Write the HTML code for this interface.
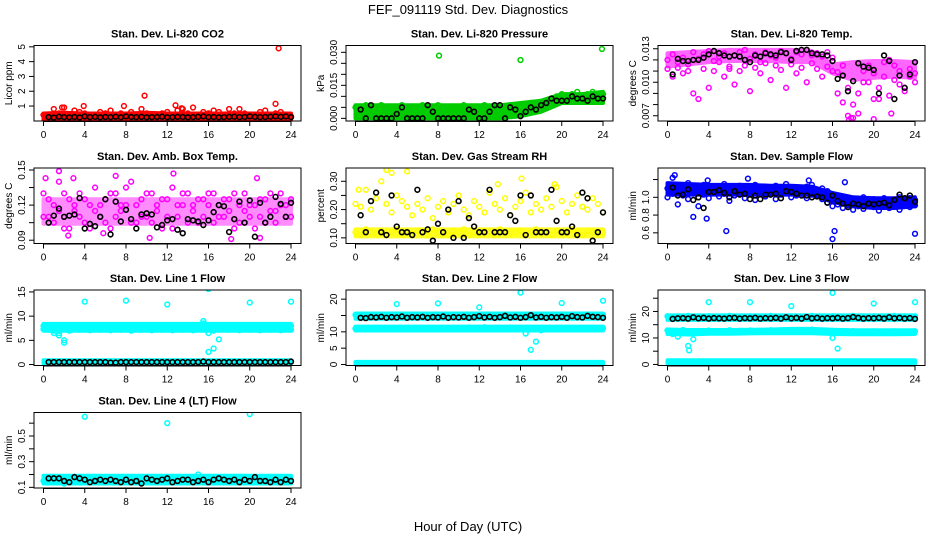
<!DOCTYPE html>
<html><head><meta charset="utf-8"><style>
body{margin:0;background:#fff;}
svg{display:block;font-family:"Liberation Sans",sans-serif;}
</style></head><body>
<svg id="chart" width="936" height="540" viewBox="0 0 936 540">
<text x="468" y="14" text-anchor="middle" font-size="13">FEF_091119  Std. Dev. Diagnostics</text>
<text x="468" y="531" text-anchor="middle" font-size="13">Hour of Day (UTC)</text>
</svg>
<script>
// ---------- data ----------
const xTicks=[0,4,8,12,16,20,24];
// Panel 1 CO2
const co2Color=[0.4,0.3,0.8,0.5,0.9,0.3,0.7,0.6,0.5,0.3,0.4,0.6,0.5,0.7,0.4,0.5,0.3,0.6,0.4,0.8,0.5,0.4,0.3,0.5,0.6,0.4,0.7,0.8,0.5,0.9,0.4,0.6,0.5,0.7,0.6,0.4,0.8,0.5,0.3,0.5,0.4,0.3,0.6,0.7,0.4,0.5,0.6,0.4,0.3];
const co2Black=[0.25,0.22,0.28,0.25,0.24,0.26,0.23,0.3,0.25,0.27,0.24,0.26,0.25,0.28,0.24,0.3,0.26,0.25,0.27,0.24,0.25,0.26,0.28,0.24,0.25,0.27,0.26,0.24,0.25,0.27,0.3,0.25,0.26,0.24,0.25,0.27,0.28,0.25,0.26,0.3,0.27,0.25,0.26,0.28,0.3,0.27,0.3,0.25];
const co2OutX=[22.8,9.8,22.5,12.8,7.8,3.9,1.8,13.4,19];
const co2OutY=[4.9,1.7,1.15,1.05,1.0,1.0,0.9,0.85,0.8];
const co2BandLo=[0.05,0.05,0.05,0.05,0.05,0.05,0.05,0.05,0.05,0.05,0.05,0.05,0.05];
const co2BandHi=[0.5,0.55,0.5,0.5,0.5,0.55,0.5,0.5,0.5,0.5,0.5,0.5,0.5];
// Panel 2 pressure
const prsColor=[0.005,0.002,0.006,0.001,0.004,0.006,0.003,0.005,0.002,0.006,0.004,0.001,0.005,0.006,0.003,0.002,0.006,0.004,0.005,0.001,0.003,0.006,0.005,0.002,0.004,0.006,0.003,0.005,0.001,0.004,0.006,0.005,0.003,0.006,0.007,0.005,0.007,0.008,0.009,0.010,0.011,0.010,0.011,0.012,0.010,0.011,0.012,0.010,0.011];
const prsBlack=[0.004,0.0,0.006,0.0,0.0,0.0,0.0,0.002,0.005,0.0,0.0,0.0,0.0,0.006,0.003,0.0,0.0,0.0,0.0,0.0,0.0,0.004,0.003,0.0,0.0,0.003,0.006,0.006,0.0,0.005,0.004,0.001,0.003,0.005,0.004,0.006,0.007,0.009,0.008,0.008,0.008,0.010,0.009,0.009,0.008,0.010,0.009,0.009];
const prsOutX=[8.1,16,23.9];
const prsOutY=[0.0285,0.0265,0.0315];
const prsBandLo=[0,0,0,0,0,0,0,0,0.001,0.003,0.007,0.007,0.007];
const prsBandHi=[0.006,0.006,0.006,0.006,0.006,0.006,0.006,0.006,0.007,0.008,0.011,0.011,0.012];
// Panel 3 Li-820 temp
const tmpColor=[0.0120,0.0125,0.0118,0.0122,0.0110,0.0127,0.0121,0.0125,0.0128,0.0119,0.0123,0.0126,0.0112,0.0124,0.0127,0.0129,0.0121,0.0125,0.0118,0.0127,0.0124,0.0122,0.0128,0.0126,0.0121,0.0127,0.0125,0.0129,0.0124,0.0126,0.0123,0.0127,0.0122,0.0109,0.0115,0.0095,0.0080,0.0072,0.0100,0.0115,0.0108,0.0085,0.0118,0.0120,0.0102,0.0110,0.0095,0.0112,0.0108];
const tmpColor2=[0.0112,0.0105,0.0113,0.0108,0.0116,0.0090,0.0085,0.0112,0.0095,0.0110,0.0118,0.0105,0.0114,0.0098,0.0110,0.0115,0.0092,0.0113,0.0108,0.0117,0.0102,0.0115,0.0111,0.0095,0.0116,0.0108,0.0113,0.0100,0.0117,0.0112,0.0105,0.0114,0.0110,0.0090,0.0082,0.0070,0.0068,0.0090,0.0110,0.0100,0.0085,0.0095,0.0105,0.0088,0.0115,0.0098,0.0092,0.0105,0.0100];
const tmpBlack=[0.0107,0.0121,0.0119,0.0119,0.0120,0.0120,0.0122,0.0125,0.0128,0.0126,0.0124,0.0123,0.0124,0.0123,0.0120,0.0118,0.0124,0.0123,0.0126,0.0125,0.0124,0.0127,0.0126,0.0120,0.0128,0.0129,0.0129,0.0126,0.0125,0.0125,0.0124,0.0119,0.0103,0.0106,0.0092,0.0101,0.0117,0.0114,0.0113,0.0111,0.0090,0.0124,0.0119,0.0085,0.0106,0.0095,0.0107,0.0118];
const tmpOutX=[17.6,17.8,20,21.7];
const tmpOutY=[0.0066,0.0068,0.0067,0.0072];
const tmpBandLo=[0.0114,0.0116,0.0118,0.0119,0.0119,0.0119,0.0118,0.0118,0.0108,0.0102,0.0104,0.0105,0.0104];
const tmpBandHi=[0.0126,0.0127,0.0128,0.0129,0.0129,0.0129,0.0129,0.0128,0.0116,0.0118,0.0119,0.0119,0.0118];
// Panel 4 amb box temp
const ambColor=[0.13,0.11,0.12,0.14,0.10,0.125,0.115,0.13,0.105,0.12,0.135,0.11,0.125,0.10,0.13,0.115,0.12,0.14,0.105,0.125,0.11,0.13,0.12,0.10,0.125,0.135,0.11,0.12,0.13,0.115,0.105,0.125,0.12,0.13,0.11,0.125,0.115,0.10,0.12,0.13,0.11,0.12,0.125,0.105,0.13,0.115,0.12,0.11,0.125];
const ambColor2=[0.11,0.125,0.105,0.115,0.13,0.10,0.12,0.11,0.125,0.10,0.115,0.12,0.105,0.13,0.11,0.12,0.135,0.105,0.12,0.11,0.13,0.105,0.115,0.125,0.11,0.10,0.12,0.13,0.105,0.12,0.125,0.11,0.13,0.105,0.12,0.11,0.125,0.13,0.105,0.115,0.12,0.10,0.11,0.125,0.115,0.105,0.13,0.12,0.11];
const ambBlack=[0.105,0.111,0.117,0.110,0.111,0.112,0.126,0.100,0.104,0.102,0.110,0.125,0.095,0.123,0.106,0.116,0.108,0.100,0.112,0.113,0.112,0.101,0.103,0.107,0.108,0.099,0.096,0.108,0.107,0.106,0.103,0.107,0.114,0.120,0.119,0.097,0.108,0.123,0.105,0.124,0.093,0.122,0.105,0.110,0.127,0.121,0.110,0.122];
const ambOutX=[1.5,0.2,7,12.6,2.9,20.7,10.3,2.4,5.8,18.2,21];
const ambOutY=[0.149,0.143,0.145,0.147,0.143,0.143,0.092,0.094,0.096,0.091,0.092];
const ambBandLo=[0.104,0.104,0.104,0.104,0.104,0.104,0.104,0.104,0.104,0.104,0.104,0.104,0.104];
const ambBandHi=[0.125,0.125,0.125,0.125,0.125,0.125,0.125,0.125,0.125,0.125,0.125,0.125,0.125];
// Panel 5 RH
const rhColor=[0.12,0.11,0.13,0.12,0.115,0.125,0.11,0.12,0.13,0.11,0.12,0.115,0.125,0.12,0.11,0.13,0.12,0.115,0.11,0.125,0.12,0.13,0.11,0.12,0.115,0.125,0.12,0.11,0.13,0.12,0.115,0.12,0.125,0.11,0.12,0.13,0.115,0.12,0.11,0.125,0.12,0.115,0.13,0.12,0.11,0.125,0.12,0.115,0.12];
const rhColor2=[0.22,0.21,0.27,0.20,0.24,0.30,0.22,0.19,0.25,0.23,0.21,0.18,0.22,0.20,0.24,0.17,0.21,0.23,0.19,0.22,0.25,0.20,0.18,0.23,0.21,0.19,0.26,0.22,0.20,0.24,0.18,0.21,0.23,0.26,0.19,0.22,0.20,0.24,0.21,0.28,0.23,0.19,0.22,0.25,0.21,0.20,0.24,0.22,0.19];
const rhBlack=[0.18,0.12,0.23,0.26,0.12,0.11,0.25,0.14,0.12,0.12,0.11,0.27,0.12,0.13,0.09,0.15,0.12,0.20,0.10,0.23,0.10,0.17,0.14,0.12,0.12,0.27,0.12,0.12,0.12,0.18,0.16,0.25,0.11,0.25,0.12,0.12,0.12,0.27,0.16,0.12,0.12,0.14,0.11,0.26,0.24,0.09,0.12,0.19];
const rhOutX=[3.0,3.5,5.0,0.3,16.1,13.8,19.3];
const rhOutY=[0.34,0.33,0.335,0.27,0.31,0.29,0.29];
const rhBandLo=[0.105,0.105,0.105,0.105,0.105,0.105,0.105,0.105,0.105,0.105,0.105,0.105,0.105];
const rhBandHi=[0.13,0.13,0.13,0.13,0.13,0.13,0.13,0.13,0.13,0.13,0.13,0.13,0.13];
// Panel 6 sample flow
const sfColor=[1.10,1.14,1.08,1.12,1.16,1.09,1.11,1.14,1.06,1.12,1.10,1.15,1.08,1.12,1.13,1.07,1.11,1.14,1.09,1.12,1.08,1.13,1.10,1.15,1.07,1.11,1.09,1.12,1.14,1.08,1.10,1.07,1.02,1.00,0.97,0.99,0.94,0.97,1.00,0.95,0.98,0.96,0.99,0.94,0.97,1.00,0.96,0.99,0.97];
const sfColor2=[1.00,1.04,0.92,1.02,0.98,1.05,0.90,1.03,0.99,1.06,1.01,1.04,0.96,1.02,1.05,0.99,1.03,0.97,1.04,1.01,1.05,0.98,1.03,1.06,1.00,1.02,1.04,0.99,1.03,1.01,0.98,0.94,0.90,0.92,0.88,0.91,0.86,0.90,0.87,0.92,0.89,0.85,0.91,0.88,0.90,0.86,0.92,0.89,0.91];
const sfBlack=[1.11,1.02,1.03,1.09,0.97,1.00,0.88,1.06,1.06,1.08,1.05,1.00,1.07,1.03,1.04,0.98,1.02,0.98,1.03,1.03,1.04,0.99,1.07,1.06,1.04,1.02,1.02,1.00,1.01,1.00,0.94,1.02,0.96,0.93,0.89,0.93,0.92,0.90,0.93,0.92,0.93,0.94,0.91,0.97,1.03,0.99,1.02,0.95];
const sfOutX=[0.5,0.7,3.9,7.8,13.7,17.2,16,16.2,5.7,24,2.5,3.8];
const sfOutY=[1.22,1.25,1.19,1.21,1.19,1.17,0.53,0.62,0.62,0.59,0.78,0.76];
const sfBandLo=[1.03,1.03,1.03,1.03,1.03,1.03,1.03,1.03,0.95,0.9,0.88,0.88,0.9];
const sfBandHi=[1.16,1.15,1.14,1.14,1.14,1.13,1.13,1.12,1.05,1.0,0.99,0.99,1.0];
// Panel 7 line1
const l1Color=[8.0,7.8,7.0,6.5,5.0,7.5,8.0,7.7,7.9,7.6,8.1,7.8,7.7,7.9,8.0,7.6,7.8,8.1,7.7,7.9,7.8,8.0,7.6,7.9,7.8,8.0,7.7,7.9,8.1,7.8,7.6,9.0,6.5,7.0,7.5,7.8,8.0,7.7,7.9,7.8,8.0,7.6,7.9,7.8,8.0,7.7,7.9,7.8,8.0];
const l1Color2=[7.3,7.2,6.5,6.0,4.5,7.0,7.4,7.2,7.3,7.1,7.4,7.2,7.3,7.1,7.4,7.2,7.3,7.0,7.4,7.2,7.3,7.1,7.4,7.2,7.3,7.1,7.3,7.2,7.4,7.1,7.3,8.5,2.6,3.3,5.2,7.3,7.2,7.4,7.1,7.3,7.2,7.4,7.1,7.3,7.2,7.4,7.1,7.3,7.2];
const l1Black=[0.5,0.5,0.5,0.5,0.5,0.5,0.5,0.5,0.5,0.5,0.5,0.5,0.4,0.4,0.5,0.5,0.5,0.5,0.5,0.5,0.5,0.5,0.5,0.5,0.5,0.5,0.5,0.5,0.5,0.5,0.6,0.5,0.5,0.5,0.5,0.5,0.5,0.5,0.5,0.5,0.5,0.5,0.5,0.5,0.5,0.5,0.5,0.6];
const l1OutX=[4,8,12,16,20,24];
const l1OutY=[13,13.2,12.4,15.6,12.8,13];
const l1BandLo=[7.0,7.0,7.0,7.0,7.0,7.0,7.0,7.0,7.0,7.0,7.0,7.0,7.0];
const l1BandHi=[8.4,8.4,8.4,8.4,8.4,8.4,8.4,8.4,8.4,8.4,8.4,8.4,8.4];
const l1Band2Lo=[0.3,0.3,0.3,0.3,0.3,0.3,0.3,0.3,0.3,0.3,0.3,0.3,0.3];
const l1Band2Hi=[0.9,0.9,0.9,0.9,0.9,0.9,0.9,0.9,0.9,0.9,0.9,0.9,0.9];
// Panel 8 line2
const l2Color=[15.2,14.8,15.0,14.6,15.3,14.9,15.1,14.7,15.2,14.8,15.0,14.6,15.3,14.9,15.1,14.7,15.2,14.8,15.0,14.6,15.3,14.9,15.1,14.7,15.2,14.8,15.0,14.6,15.3,14.9,15.1,14.7,15.2,14.8,15.0,14.6,15.3,14.9,15.1,14.7,15.2,14.8,15.0,14.6,15.3,14.9,15.1,14.7,15.2];
const l2Color2=[11.0,10.8,11.1,10.9,11.0,10.8,11.1,10.9,11.0,10.8,11.1,10.9,11.0,10.8,11.1,10.9,11.0,10.8,11.1,10.9,11.0,10.8,11.3,11.2,11.0,11.4,11.1,10.9,11.2,11.0,11.3,11.1,10.8,9.5,4.5,7.0,10.5,10.9,11.0,10.8,11.1,10.9,11.0,10.8,11.1,10.9,11.0,10.8,11.1];
const l2Black=[14.3,14.2,14.5,14.4,14.6,14.3,14.5,14.4,14.7,14.3,14.5,14.4,14.6,14.3,14.5,14.4,14.7,14.3,14.5,14.4,14.6,14.3,14.5,14.8,14.4,14.6,14.3,14.5,14.9,14.4,14.6,14.3,14.5,15.1,14.4,14.6,14.3,14.5,14.4,14.6,14.3,14.8,14.5,14.4,14.9,14.6,14.5,14.3];
const l2OutX=[4,8,12,16,20,24];
const l2OutY=[18.5,18.7,17.5,22,18.8,19.5];
const l2BandLo=[14.0,14.0,14.0,14.0,14.0,14.0,14.0,14.0,14.0,14.0,14.0,14.0,14.0];
const l2BandHi=[15.6,15.6,15.6,15.6,15.6,15.6,15.6,15.6,15.6,15.6,15.6,15.6,15.6];
const l2Band2Lo=[10.4,10.4,10.4,10.4,10.4,10.4,10.4,10.4,10.4,10.4,10.4,10.4,10.4];
const l2Band2Hi=[11.6,11.6,11.6,11.6,11.6,11.6,11.6,11.6,11.6,11.6,11.6,11.6,11.6];
const l2Band3Lo=[0,0,0,0,0,0,0,0,0,0,0,0,0];
const l2Band3Hi=[0.8,0.8,0.8,0.8,0.8,0.8,0.8,0.8,0.8,0.8,0.8,0.8,0.8];
// Panel 9 line3
const l3Color=[18.2,17.8,18.0,17.6,18.3,17.9,18.1,17.7,18.2,17.8,18.0,17.6,18.3,17.9,18.1,17.7,18.2,17.8,18.0,17.6,18.3,17.9,18.1,17.7,18.2,17.8,18.0,17.6,18.3,17.9,18.1,17.7,18.2,17.8,18.0,17.6,18.3,17.9,18.1,17.7,18.2,17.8,18.0,17.6,18.3,17.9,18.1,17.7,18.2];
const l3Color2=[12.8,11.5,10.5,13.0,7.0,9.5,12.5,12.2,12.8,12.4,12.6,12.3,12.9,12.5,12.7,12.4,12.8,12.5,12.6,12.3,12.9,12.5,12.7,12.4,12.8,12.5,12.6,12.9,13.1,12.8,12.7,12.4,10.0,6.0,12.0,12.3,12.6,12.2,12.4,12.1,12.5,12.2,12.4,12.3,12.5,12.2,12.4,12.3,12.5];
const l3Black=[17.2,17.4,17.5,17.3,17.8,17.4,17.6,17.3,17.5,17.4,17.3,17.5,17.6,17.3,17.5,17.4,17.6,17.3,17.5,17.4,17.6,17.3,17.8,17.4,17.6,17.3,17.9,17.4,17.6,17.3,17.5,17.4,17.6,17.3,17.5,17.9,17.6,17.3,17.5,17.4,17.6,17.3,17.8,17.4,17.6,17.3,17.5,17.2];
const l3OutX=[4,8,12,16,20,24,2.1];
const l3OutY=[23.5,23.5,22,27,23,23.5,5.3];
const l3BandLo=[16.8,16.8,16.8,16.8,16.8,16.8,16.8,16.8,16.8,16.8,16.8,16.8,16.8];
const l3BandHi=[18.5,18.5,18.5,18.5,18.5,18.5,18.5,18.5,18.5,18.5,18.5,18.5,18.5];
const l3Band2Lo=[11.5,11.3,11.6,11.6,11.7,11.8,11.8,11.8,11.5,11.4,11.4,11.4,11.5];
const l3Band2Hi=[13.2,13.0,13.0,13.0,13.1,13.2,13.4,13.4,13.1,12.9,12.9,12.9,12.9];
const l3Band3Lo=[0.3,0.3,0.3,0.3,0.3,0.3,0.3,0.3,0.3,0.3,0.3,0.3,0.3];
const l3Band3Hi=[1.6,1.6,1.6,1.6,1.6,1.6,1.6,1.6,1.6,1.6,1.6,1.6,1.6];
// Panel 10 line4
const l4Color=[0.15,0.17,0.14,0.16,0.13,0.17,0.15,0.16,0.14,0.17,0.15,0.16,0.14,0.17,0.15,0.16,0.14,0.17,0.15,0.16,0.14,0.17,0.15,0.16,0.14,0.17,0.15,0.16,0.14,0.17,0.2,0.16,0.14,0.17,0.15,0.16,0.14,0.17,0.15,0.16,0.14,0.17,0.15,0.16,0.14,0.17,0.15,0.16,0.15];
const l4Black=[0.17,0.17,0.17,0.15,0.14,0.18,0.17,0.16,0.14,0.15,0.16,0.15,0.16,0.15,0.14,0.16,0.14,0.15,0.13,0.17,0.16,0.15,0.16,0.17,0.14,0.15,0.16,0.16,0.14,0.15,0.16,0.14,0.16,0.17,0.16,0.15,0.16,0.14,0.16,0.15,0.18,0.15,0.15,0.14,0.16,0.14,0.16,0.15];
const l4OutX=[4,12,20];
const l4OutY=[0.65,0.6,0.67];
const l4BandLo=[0.13,0.13,0.13,0.13,0.13,0.13,0.13,0.13,0.13,0.13,0.13,0.13,0.13];
const l4BandHi=[0.19,0.19,0.19,0.19,0.19,0.19,0.19,0.19,0.19,0.19,0.19,0.19,0.19];

// ---------- layout ----------
const NS='http://www.w3.org/2000/svg';
const svg=document.getElementById('chart');
const colLeft=[34,346,658], rowTop=[45.5,168,290,412.5], W=267, H=75.5;
function mk(tag,attrs,parent){const e=document.createElementNS(NS,tag);for(const k in attrs)e.setAttribute(k,attrs[k]);(parent||svg).appendChild(e);return e;}
const colorHours=[];for(let h=0;h<=24;h+=0.5)colorHours.push(h);
const blackHours=[];for(let h=0.5;h<=24;h+=0.5)blackHours.push(h);
const bandHours=[];for(let h=0;h<=24;h+=2)bandHours.push(h);

const panels=[
 {key:'co2',title:'Stan. Dev. Li-820 CO2',ylab:'Licor ppm',col:'#ff0000',op:1,dom:[-0.01,5.09],ticks:[1,2,3,4,5],labels:[1,2,3,4,5],dec:0,
  series:[co2Color],black:co2Black,ox:co2OutX,oy:co2OutY,bands:[[co2BandLo,co2BandHi]]},
 {key:'pressure',title:'Stan. Dev. Li-820 Pressure',ylab:'kPa',col:'#00cc00',op:1,dom:[-0.0012,0.0331],ticks:[0,0.005,0.01,0.015,0.02,0.025,0.03],labels:[0,0.015,0.03],dec:3,
  series:[prsColor],black:prsBlack,ox:prsOutX,oy:prsOutY,bands:[[prsBandLo,prsBandHi]]},
 {key:'licor-temp',title:'Stan. Dev. Li-820 Temp.',ylab:'degrees C',col:'#ff00ff',op:0.6,dom:[0.00653,0.01329],ticks:[0.007,0.008,0.009,0.01,0.011,0.012,0.013],labels:[0.007,0.01,0.013],dec:3,
  series:[tmpColor,tmpColor2],black:tmpBlack,ox:tmpOutX,oy:tmpOutY,bands:[[tmpBandLo,tmpBandHi]]},
 {key:'amb-temp',title:'Stan. Dev. Amb. Box Temp.',ylab:'degrees C',col:'#ff00ff',op:0.45,dom:[0.0872,0.1517],ticks:[0.09,0.105,0.12,0.135,0.15],labels:[0.09,0.12,0.15],dec:2,
  series:[ambColor,ambColor2],black:ambBlack,ox:ambOutX,oy:ambOutY,bands:[[ambBandLo,ambBandHi]]},
 {key:'rh',title:'Stan. Dev. Gas Stream RH',ylab:'percent',col:'#ffff00',op:0.85,dom:[0.080,0.347],ticks:[0.1,0.15,0.2,0.25,0.3],labels:[0.1,0.2,0.3],dec:2,
  series:[rhColor,rhColor2],black:rhBlack,ox:rhOutX,oy:rhOutY,bands:[[rhBandLo,rhBandHi]]},
 {key:'sample-flow',title:'Stan. Dev. Sample Flow',ylab:'ml/min',col:'#0000ff',op:1,dom:[0.48,1.33],ticks:[0.6,0.8,1.0,1.2],labels:[0.6,0.8,1.0],dec:1,
  series:[sfColor,sfColor2],black:sfBlack,ox:sfOutX,oy:sfOutY,bands:[[sfBandLo,sfBandHi]]},
 {key:'line1',title:'Stan. Dev. Line 1 Flow',ylab:'ml/min',col:'#00ffff',op:1,dom:[-0.2,15.4],ticks:[0,5,10,15],labels:[0,5,10,15],dec:0,
  series:[l1Color,l1Color2],black:l1Black,ox:l1OutX,oy:l1OutY,bands:[[l1BandLo,l1BandHi],[l1Band2Lo,l1Band2Hi]]},
 {key:'line2',title:'Stan. Dev. Line 2 Flow',ylab:'ml/min',col:'#00ffff',op:1,dom:[-0.3,22.8],ticks:[0,5,10,15,20],labels:[0,5,10,20],dec:0,
  series:[l2Color,l2Color2],black:l2Black,ox:l2OutX,oy:l2OutY,bands:[[l2BandLo,l2BandHi],[l2Band2Lo,l2Band2Hi],[l2Band3Lo,l2Band3Hi]]},
 {key:'line3',title:'Stan. Dev. Line 3 Flow',ylab:'ml/min',col:'#00ffff',op:1,dom:[-0.4,28.1],ticks:[0,5,10,15,20,25],labels:[0,10,20],dec:0,
  series:[l3Color,l3Color2],black:l3Black,ox:l3OutX,oy:l3OutY,bands:[[l3BandLo,l3BandHi],[l3Band2Lo,l3Band2Hi],[l3Band3Lo,l3Band3Hi]]},
 {key:'line4',title:'Stan. Dev. Line 4 (LT) Flow',ylab:'ml/min',col:'#00ffff',op:1,dom:[0.095,0.683],ticks:[0.1,0.2,0.3,0.4,0.5,0.6],labels:[0.1,0.3,0.5],dec:1,
  series:[l4Color],black:l4Black,ox:l4OutX,oy:l4OutY,bands:[[l4BandLo,l4BandHi]]}
];

panels.forEach((p,i)=>{
  const L=colLeft[i%3], T=rowTop[Math.floor(i/3)], B=T+H;
  const g=mk('g',{});
  
  
  const xs=h=>L+9.5+h*(247.5/24);
  const ys=v=>B-(v-p.dom[0])/(p.dom[1]-p.dom[0])*H;
  const clipId='clip'+i;
  const cp=mk('clipPath',{id:clipId},g);mk('rect',{x:L,y:T,width:W,height:H},cp);
  const marks=mk('g',{'clip-path':'url(#'+clipId+')'},g);
  
  
  p.bands.forEach(b=>{
    let d='';
    bandHours.forEach((h,k)=>{d+=(k?'L':'M')+xs(h).toFixed(1)+','+ys(b[1][k]).toFixed(1);});
    for(let k=bandHours.length-1;k>=0;k--)d+='L'+xs(bandHours[k]).toFixed(1)+','+ys(b[0][k]).toFixed(1);
    const pa=mk('path',{d:d+'Z',fill:p.col,stroke:p.col,'stroke-width':4,'stroke-linejoin':'round',opacity:p.op},marks);
    
    
  });
  p.series.forEach(s=>s.forEach((v,k)=>{
    const c=mk('circle',{cx:xs(colorHours[k]),cy:ys(v),r:2.4,fill:'none',stroke:p.col,'stroke-width':1.5},marks);
    
    
  }));
  p.ox.forEach((h,k)=>{
    const c=mk('circle',{cx:xs(h),cy:ys(p.oy[k]),r:2.4,fill:'none',stroke:p.col,'stroke-width':1.5},marks);
    
    
  });
  p.black.forEach((v,k)=>{
    const c=mk('circle',{cx:xs(blackHours[k]),cy:ys(v),r:2.4,fill:'none',stroke:'#000','stroke-width':1.6},marks);
    
    
  });
  const fr=mk('rect',{x:L,y:T,width:W,height:H,fill:'none',stroke:'#000','stroke-width':1},g);
  
  
  const t=mk('text',{x:L+W/2,y:T-8,'text-anchor':'middle','font-size':11,'font-weight':'bold'},g);
  t.textContent=p.title;
  
  
  const xa=mk('g',{},g);
  
  
  mk('line',{x1:xs(0),x2:xs(24),y1:B+0.5,y2:B+0.5,stroke:'#000'},xa);
  xTicks.forEach(h=>{
    mk('line',{x1:xs(h),x2:xs(h),y1:B,y2:B+5,stroke:'#000'},xa);
    const tx=mk('text',{x:xs(h),y:B+17,'text-anchor':'middle','font-size':10},xa);
    tx.textContent=h;
    
    
  });
  const ya=mk('g',{},g);
  
  
  p.ticks.forEach(v=>{
    mk('line',{x1:L-5,x2:L,y1:ys(v),y2:ys(v),stroke:'#000'},ya);
  });
  p.labels.forEach(v=>{
    const y=ys(v);
    const tx=mk('text',{x:0,y:0,'text-anchor':'middle','font-size':10,transform:'translate('+(L-9)+','+y+') rotate(-90)'},ya);
    tx.textContent=v.toFixed(p.dec);
    
    
  });
  const yl=mk('text',{x:0,y:0,'text-anchor':'middle','font-size':10,transform:'translate('+(L-22)+','+(T+H/2)+') rotate(-90)'},g);
  yl.textContent=p.ylab;
  
  
});
</script>
</body></html>
